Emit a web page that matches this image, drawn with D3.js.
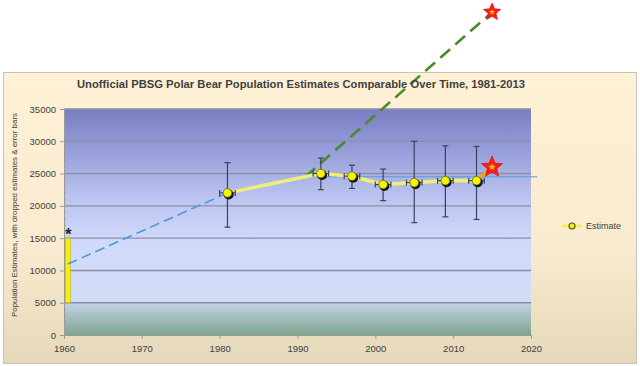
<!DOCTYPE html>
<html><head><meta charset="utf-8">
<script src="https://cdn.jsdelivr.net/npm/d3@7"></script>
<style>body{margin:0;background:#fff}svg{display:block}text{font-family:"Liberation Sans",Arial,sans-serif}</style>
</head><body><svg id="c" width="640" height="366"></svg>
<script>
const years = [1981, 1993, 1997, 2001, 2005, 2009, 2013];
const estimates = [22000, 25000, 24600, 23300, 23600, 23900, 23900];
const errHigh = [26700, 27400, 26300, 25700, 30000, 29300, 29200];
const errLow = [16700, 22500, 22700, 20800, 17400, 18300, 17900];
const lineYears = [1981, 1991, 1993, 1997, 2001, 2005, 2009, 2013];
const lineValues = [22000, 24500, 25000, 24600, 23300, 23600, 23900, 23900];
const earlyYears = [1960.5, 1981];
const earlyValues = [11000, 22000];
const projYears = [1991, 2015];
const projValues = [24500, 50000];
const recentYears = [2013, 2015];
const recentValues = [23900, 26000];
const refYears = [1991, 2020.8];
const refValues = [24500, 24500];
const starYears = [2015, 2015];
const starValues = [50000, 26000];
const barYear = 1960.5;
const barRange = [5000, 15000];
const yTicks = [0, 5000, 10000, 15000, 20000, 25000, 30000, 35000];
const xTicks = [1960, 1970, 1980, 1990, 2000, 2010, 2020];
const title = "Unofficial PBSG Polar Bear Population Estimates Comparable Over Time, 1981-2013";
const yLabel = "Population Estimates, with dropped estimates & error bars";
const legendLabel = "Estimate";

const svg = d3.select("#c");
const L = 64, R = 531, T = 109, B = 335;
const x = d3.scaleLinear().domain([1960, 2020]).range([L, R]);
const y = d3.scaleLinear().domain([0, 35000]).range([B, T]);

const defs = svg.append("defs");
const g1 = defs.append("linearGradient").attr("id", "outer").attr("x1", 0).attr("y1", 0).attr("x2", 0).attr("y2", 1);
[[0, "#FEF1D6"], [0.6, "#F8EBCF"], [1, "#E6D8BA"]].forEach(s => g1.append("stop").attr("offset", s[0]).attr("stop-color", s[1]));
const g2 = defs.append("linearGradient").attr("id", "plot").attr("x1", 0).attr("y1", 0).attr("x2", 0).attr("y2", 1);
[[0, "#7A7DC2"], [0.15, "#9198D6"], [0.4, "#BCC5F0"], [0.6, "#D2DAFA"], [0.85, "#D3DCF6"], [0.86, "#C3D2E4"], [1, "#7EA58E"]].forEach(s => g2.append("stop").attr("offset", s[0]).attr("stop-color", s[1]));

svg.append("rect").attr("x", 3.5).attr("y", 72.5).attr("width", 633).attr("height", 291).attr("fill", "url(#outer)").attr("stroke", "#C9C2B4");
svg.append("rect").attr("x", L).attr("y", T).attr("width", R - L).attr("height", B - T).attr("fill", "url(#plot)");

// gridlines
svg.append("g").selectAll("line").data(yTicks.filter(d => d > 0)).join("line")
  .attr("x1", L).attr("x2", R).attr("y1", d => y(d)).attr("y2", d => y(d))
  .attr("stroke", "#8A90A6").attr("stroke-width", 1.4);

// axes
const ya = svg.append("g").attr("transform", `translate(${L},0)`)
  .call(d3.axisLeft(y).tickValues(yTicks).tickFormat(d3.format("d")).tickSize(4).tickPadding(4));
const xa = svg.append("g").attr("transform", `translate(0,${B})`)
  .call(d3.axisBottom(x).tickValues(xTicks).tickFormat(d3.format("d")).tickSize(4).tickPadding(6));
[ya, xa].forEach(a => {
  a.select(".domain").attr("stroke", "#9A9A9A");
  a.selectAll(".tick line").attr("stroke", "#9A9A9A");
  a.selectAll("text").attr("fill", "#404040").style("font-size", "9.5px");
});
// minor ticks
svg.append("g").selectAll("line").data(d3.range(1000, 35000, 1000)).join("line")
  .attr("x1", L).attr("x2", L + 2).attr("y1", d => y(d)).attr("y2", d => y(d)).attr("stroke", "#9A9A9A");
svg.append("g").selectAll("line").data(d3.range(1962, 2020, 2)).join("line")
  .attr("x1", d => x(d)).attr("x2", d => x(d)).attr("y1", B).attr("y2", B - 2).attr("stroke", "#9A9A9A");

// yellow bar
svg.append("rect").attr("x", x(barYear) - 2.5).attr("width", 5)
  .attr("y", y(barRange[1])).attr("height", y(barRange[0]) - y(barRange[1]))
  .attr("fill", "#F8F000").attr("stroke", "#B8B030").attr("stroke-width", 0.6);
svg.append("text").attr("x", x(barYear) + 0.5).attr("y", y(barRange[1]) + 2).attr("text-anchor", "middle")
  .style("font-size", "16px").style("font-weight", "bold").attr("fill", "#222").text("*");

const line = d3.line().x(d => x(d[0])).y(d => y(d[1]));
const zip = (a, b) => a.map((v, i) => [v, b[i]]);

// reference line
svg.append("path").attr("d", line(zip(refYears, refValues))).attr("stroke", "#5B9BD5").attr("stroke-width", 1).attr("fill", "none");
// early dashed
svg.append("path").attr("d", line(zip(earlyYears, earlyValues))).attr("stroke", "#4A9ADC").attr("stroke-width", 1.6).attr("stroke-dasharray", "10,5").attr("fill", "none");
// projection dashed
svg.append("path").attr("d", line(zip(projYears, projValues))).attr("stroke", "#4B8A2C").attr("stroke-width", 2.6).attr("stroke-dasharray", "13,7").attr("fill", "none");
// estimate line
svg.append("path").attr("d", line(zip(lineYears, lineValues))).attr("stroke", "#EEEE7A").attr("stroke-width", 3.6).attr("fill", "none").attr("stroke-linejoin", "round");
// recent orange
svg.append("path").attr("d", line(zip(recentYears, recentValues))).attr("stroke", "#F2A900").attr("stroke-width", 3).attr("fill", "none");

// error bars
const eb = svg.append("g").attr("stroke", "#3A4262").attr("stroke-width", 1.2);
years.forEach((yr, i) => {
  const cx = x(yr);
  eb.append("line").attr("x1", cx).attr("x2", cx).attr("y1", y(errHigh[i])).attr("y2", y(errLow[i]));
  [errHigh[i], errLow[i]].forEach(v => eb.append("line").attr("x1", cx - 3).attr("x2", cx + 3).attr("y1", y(v)).attr("y2", y(v)));
  const yy = y(estimates[i]);
  eb.append("line").attr("x1", x(yr - 1)).attr("x2", x(yr + 1)).attr("y1", yy).attr("y2", yy);
  [yr - 1, yr + 1].forEach(v => eb.append("line").attr("x1", x(v)).attr("x2", x(v)).attr("y1", yy - 3).attr("y2", yy + 3));
});
// markers
const mk = svg.append("g");
years.forEach((yr, i) => {
  mk.append("circle").attr("cx", x(yr) + 1.2).attr("cy", y(estimates[i]) + 1.5).attr("r", 5).attr("fill", "#111");
  mk.append("circle").attr("cx", x(yr)).attr("cy", y(estimates[i])).attr("r", 4.3).attr("fill", "#F6F400").attr("stroke", "#6A6A20").attr("stroke-width", 0.8);
});

// stars
const starPath = (r) => {
  const pts = [];
  for (let k = 0; k < 10; k++) {
    const a = -Math.PI / 2 + k * Math.PI / 5;
    const rr = k % 2 ? r * 0.45 : r;
    pts.push([rr * Math.cos(a), rr * Math.sin(a)]);
  }
  return "M" + pts.map(p => p.join(",")).join("L") + "Z";
};
const starSizes = [9, 11];
starYears.forEach((yr, i) => {
  const gS = svg.append("g").attr("transform", `translate(${x(yr)},${y(starValues[i])})`);
  gS.append("path").attr("d", starPath(starSizes[i])).attr("fill", "#FF1A1A").attr("stroke", "#E01010").attr("stroke-width", 0.8);
  gS.append("path").attr("d", starPath(starSizes[i] * 0.35)).attr("fill", "#F6C000");
});

// title
svg.append("text").attr("x", 301).attr("y", 88).attr("text-anchor", "middle")
  .attr("textLength", 448).attr("lengthAdjust", "spacingAndGlyphs")
  .style("font-size", "11px").style("font-weight", "bold").attr("fill", "#3F3F3F").text(title);
// y label
svg.append("text").attr("transform", "translate(17,215) rotate(-90)").attr("text-anchor", "middle")
  .attr("textLength", 204).attr("lengthAdjust", "spacingAndGlyphs")
  .style("font-size", "7.5px").attr("fill", "#404040").text(yLabel);

// legend
svg.append("line").attr("x1", 562).attr("x2", 582).attr("y1", 226).attr("y2", 226).attr("stroke", "#F4F060").attr("stroke-width", 2.5);
svg.append("circle").attr("cx", 572).attr("cy", 226).attr("r", 3).attr("fill", "#F6F000").attr("stroke", "#5A5A10").attr("stroke-width", 1.2);
svg.append("text").attr("x", 586).attr("y", 229).style("font-size", "9px").attr("fill", "#404040").text(legendLabel);
</script></body></html>
